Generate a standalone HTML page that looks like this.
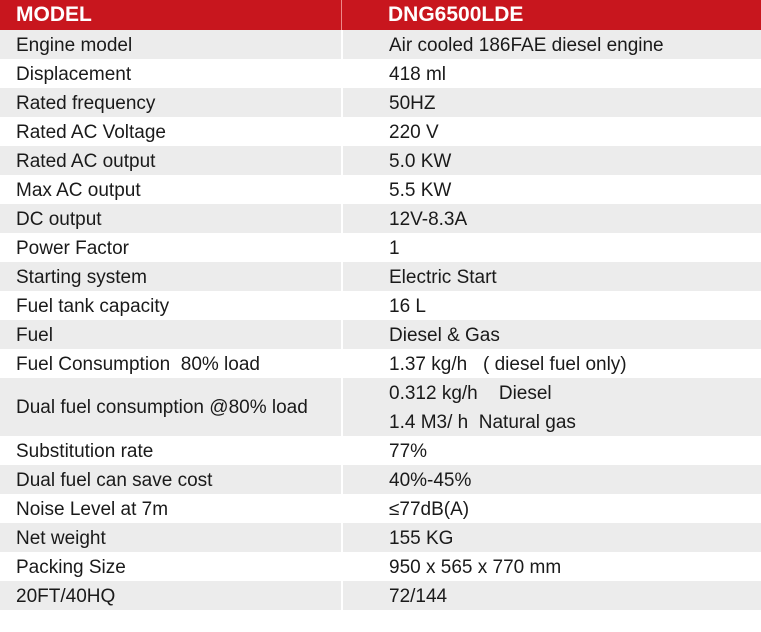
<!DOCTYPE html>
<html><head><style>
html,body{margin:0;padding:0;background:#fff;width:761px;height:632px;overflow:hidden}
.r{display:flex;height:29px;line-height:29px;font-family:"Liberation Sans",Arial,sans-serif;font-size:19px;color:#1a1a1a;white-space:nowrap}
.r div{position:relative;top:1px}
.a{width:325px;padding-left:16px;border-right:2px solid #fff;box-sizing:content-box}
.b{padding-left:46px;flex:1}
.r>.a,.r>.b{top:0}
.r span{position:relative;top:1px}
.h{background:#c8161e;color:#fff;font-weight:bold;font-size:21px;height:30px;line-height:30px}
.h .a{border-right:1px solid #e88}
.g{background:#ececec}
</style></head><body>
<div class="r h"><div class="a">MODEL</div><div class="b">DNG6500LDE</div></div>
<div class="r g"><div class="a"><span>Engine model</span></div><div class="b"><span>Air cooled 186FAE diesel engine</span></div></div>
<div class="r"><div class="a"><span>Displacement</span></div><div class="b"><span>418 ml</span></div></div>
<div class="r g"><div class="a"><span>Rated frequency</span></div><div class="b"><span>50HZ</span></div></div>
<div class="r"><div class="a"><span>Rated AC Voltage</span></div><div class="b"><span>220 V</span></div></div>
<div class="r g"><div class="a"><span>Rated AC output</span></div><div class="b"><span>5.0 KW</span></div></div>
<div class="r"><div class="a"><span>Max AC output</span></div><div class="b"><span>5.5 KW</span></div></div>
<div class="r g"><div class="a"><span>DC output</span></div><div class="b"><span>12V-8.3A</span></div></div>
<div class="r"><div class="a"><span>Power Factor</span></div><div class="b"><span>1</span></div></div>
<div class="r g"><div class="a"><span>Starting system</span></div><div class="b"><span>Electric Start</span></div></div>
<div class="r"><div class="a"><span>Fuel tank capacity</span></div><div class="b"><span>16 L</span></div></div>
<div class="r g"><div class="a"><span>Fuel</span></div><div class="b"><span>Diesel &amp; Gas</span></div></div>
<div class="r"><div class="a"><span>Fuel Consumption&nbsp; 80% load</span></div><div class="b"><span>1.37 kg/h&nbsp;&nbsp; ( diesel fuel only)</span></div></div>
<div class="r g" style="height:58px"><div class="a" style="line-height:58px"><span>Dual fuel consumption @80% load</span></div><div class="b"><span>0.312 kg/h&nbsp;&nbsp;&nbsp; Diesel<br>1.4 M3/ h&nbsp; Natural gas</span></div></div>
<div class="r"><div class="a"><span>Substitution rate</span></div><div class="b"><span>77%</span></div></div>
<div class="r g"><div class="a"><span>Dual fuel can save cost</span></div><div class="b"><span>40%-45%</span></div></div>
<div class="r"><div class="a"><span>Noise Level at 7m</span></div><div class="b"><span>≤77dB(A)</span></div></div>
<div class="r g"><div class="a"><span>Net weight</span></div><div class="b"><span>155 KG</span></div></div>
<div class="r"><div class="a"><span>Packing Size</span></div><div class="b"><span>950 x 565 x 770 mm</span></div></div>
<div class="r g"><div class="a"><span>20FT/40HQ</span></div><div class="b"><span>72/144</span></div></div>
</body></html>
